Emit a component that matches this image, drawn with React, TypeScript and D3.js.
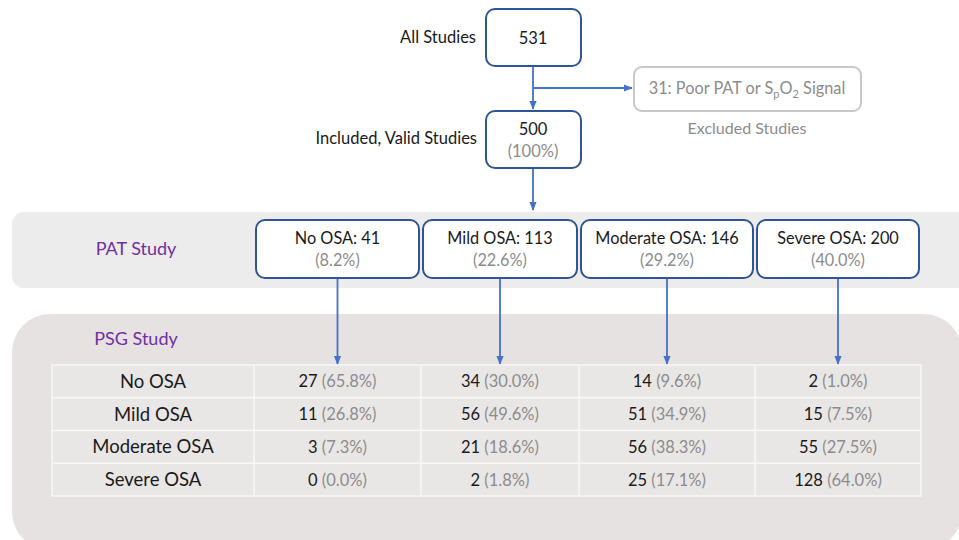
import React from "react";
import * as d3 from "d3";

const totalStudies = 531;
const validStudies = 500;
const validPct = "100%";
const excludedCount = 31;
const patCategories = ["No OSA", "Mild OSA", "Moderate OSA", "Severe OSA"];
const patCounts = [41, 113, 146, 200];
const patPcts = ["8.2%", "22.6%", "29.2%", "40.0%"];
const psgRows = ["No OSA", "Mild OSA", "Moderate OSA", "Severe OSA"];
// counts[row][col]
const psgCounts = [
  [27, 34, 14, 2],
  [11, 56, 51, 15],
  [3, 21, 56, 55],
  [0, 2, 25, 128],
];
const psgPcts = [
  ["65.8%", "30.0%", "9.6%", "1.0%"],
  ["26.8%", "49.6%", "34.9%", "7.5%"],
  ["7.3%", "18.6%", "38.3%", "27.5%"],
  ["0.0%", "1.8%", "17.1%", "64.0%"],
];

const FONT = "Lato, 'Open Sans', sans-serif";
const BOX = "#2f5597";
const ARROW = "#4472c4";
const GRAY = "#8c8c8c";
const DARK = "#1a1a1a";
const PURPLE = "#7030a0";

// column edges of table (layout)
const colEdges = [52, 254, 421, 579, 755, 921];

export default function App() {
  const rowScale = d3.scaleBand<string>().domain(psgRows).range([365, 496]);
  const colX = (i: number) => colEdges[i];
  const colW = (i: number) => colEdges[i + 1] - colEdges[i];
  const cx = 533;

  return (
    <svg width={959} height={540} style={{ position: "absolute", left: 0, top: 0, background: "#fff" }} fontFamily={FONT}>
      <defs>
        <marker id="arr" viewBox="0 0 10 10" refX="9" refY="5" markerWidth="5" markerHeight="5" orient="auto">
          <path d="M0,1 L10,5 L0,9 z" fill={ARROW} />
        </marker>
      </defs>

      {/* Bands */}
      <rect x={12} y={212} width={960} height={76} rx={12} fill="#ececec" />
      <rect x={12} y={314} width={950} height={236} rx={38} fill="#e6e2e2" />

      {/* Top flow */}
      <line x1={cx} y1={66} x2={cx} y2={109} stroke={ARROW} strokeWidth={1.8} markerEnd="url(#arr)" />
      <line x1={cx} y1={88} x2={632} y2={88} stroke={ARROW} strokeWidth={1.8} markerEnd="url(#arr)" />
      <line x1={cx} y1={168} x2={cx} y2={210} stroke={ARROW} strokeWidth={1.8} markerEnd="url(#arr)" />

      <rect x={486} y={9} width={95} height={57} rx={9} fill="#fff" stroke={BOX} strokeWidth={2} />
      <text x={cx} y={44} textAnchor="middle" fontSize={16.5} fill={DARK}>{totalStudies}</text>
      <text x={476} y={43} textAnchor="end" fontSize={16.5} fill={DARK}>All Studies</text>

      <rect x={486} y={111} width={95} height={57} rx={9} fill="#fff" stroke={BOX} strokeWidth={2} />
      <text x={cx} y={135} textAnchor="middle" fontSize={16.5} fill={DARK}>{validStudies}</text>
      <text x={cx} y={157} textAnchor="middle" fontSize={16.5} fill={GRAY}>({validPct})</text>
      <text x={477} y={144} textAnchor="end" fontSize={16.5} fill={DARK}>Included, Valid Studies</text>

      <rect x={634} y={67} width={227} height={44} rx={8} fill="#fff" stroke="#c8c8c8" strokeWidth={2} />
      <text x={747} y={94} textAnchor="middle" fontSize={16.3} fill={GRAY}>
        {excludedCount}: Poor PAT or S<tspan fontSize={11} dy={4}>p</tspan>
        <tspan dy={-4}>O</tspan><tspan fontSize={11} dy={4}>2</tspan><tspan dy={-4}> Signal</tspan>
      </text>
      <text x={747} y={134} textAnchor="middle" fontSize={16} fill={GRAY}>Excluded Studies</text>

      {/* Band labels */}
      <text x={136} y={255} textAnchor="middle" fontSize={18} fill={PURPLE}>PAT Study</text>
      <text x={136} y={345} textAnchor="middle" fontSize={18} fill={PURPLE}>PSG Study</text>

      {/* Arrows from PAT boxes to table */}
      {patCategories.map((c, i) => {
        const x = colX(i + 1) + colW(i + 1) / 2;
        return <line key={"a" + c} x1={x} y1={278} x2={x} y2={364} stroke={ARROW} strokeWidth={1.8} markerEnd="url(#arr)" />;
      })}

      {/* PAT boxes */}
      {patCategories.map((c, i) => {
        const x0 = colX(i + 1) + 2;
        const w = colW(i + 1) - 4;
        const x = x0 + w / 2;
        return (
          <g key={c}>
            <rect x={x0} y={220} width={w} height={58} rx={9} fill="#fff" stroke={BOX} strokeWidth={2} />
            <text x={x} y={244} textAnchor="middle" fontSize={16.3} fill={DARK}>{c}: {patCounts[i]}</text>
            <text x={x} y={266} textAnchor="middle" fontSize={16.3} fill={GRAY}>({patPcts[i]})</text>
          </g>
        );
      })}

      {/* Table */}
      <rect x={colEdges[0]} y={365} width={colEdges[5] - colEdges[0]} height={131} fill="#e9e6e6" stroke="#f8f8f8" strokeWidth={1.5} />
      {psgRows.slice(1).map((r) => (
        <line key={"h" + r} x1={colEdges[0]} x2={colEdges[5]} y1={rowScale(r)} y2={rowScale(r)} stroke="#f8f8f8" strokeWidth={1.5} />
      ))}
      {colEdges.slice(1, 5).map((e) => (
        <line key={"v" + e} x1={e} x2={e} y1={365} y2={496} stroke="#f8f8f8" strokeWidth={1.5} />
      ))}
      {psgRows.map((r, ri) => {
        const y = (rowScale(r) as number) + rowScale.bandwidth() / 2 + 6.5;
        return (
          <g key={"r" + r}>
            <text x={colX(0) + colW(0) / 2} y={y} textAnchor="middle" fontSize={18.5} fill={DARK}>{r}</text>
            {psgCounts[ri].map((v, ci) => (
              <text key={ci} x={colX(ci + 1) + colW(ci + 1) / 2} y={y - 0.5} textAnchor="middle" fontSize={16.5} fill={DARK}>
                {v} <tspan fill={GRAY}>({psgPcts[ri][ci]})</tspan>
              </text>
            ))}
          </g>
        );
      })}
    </svg>
  );
}
